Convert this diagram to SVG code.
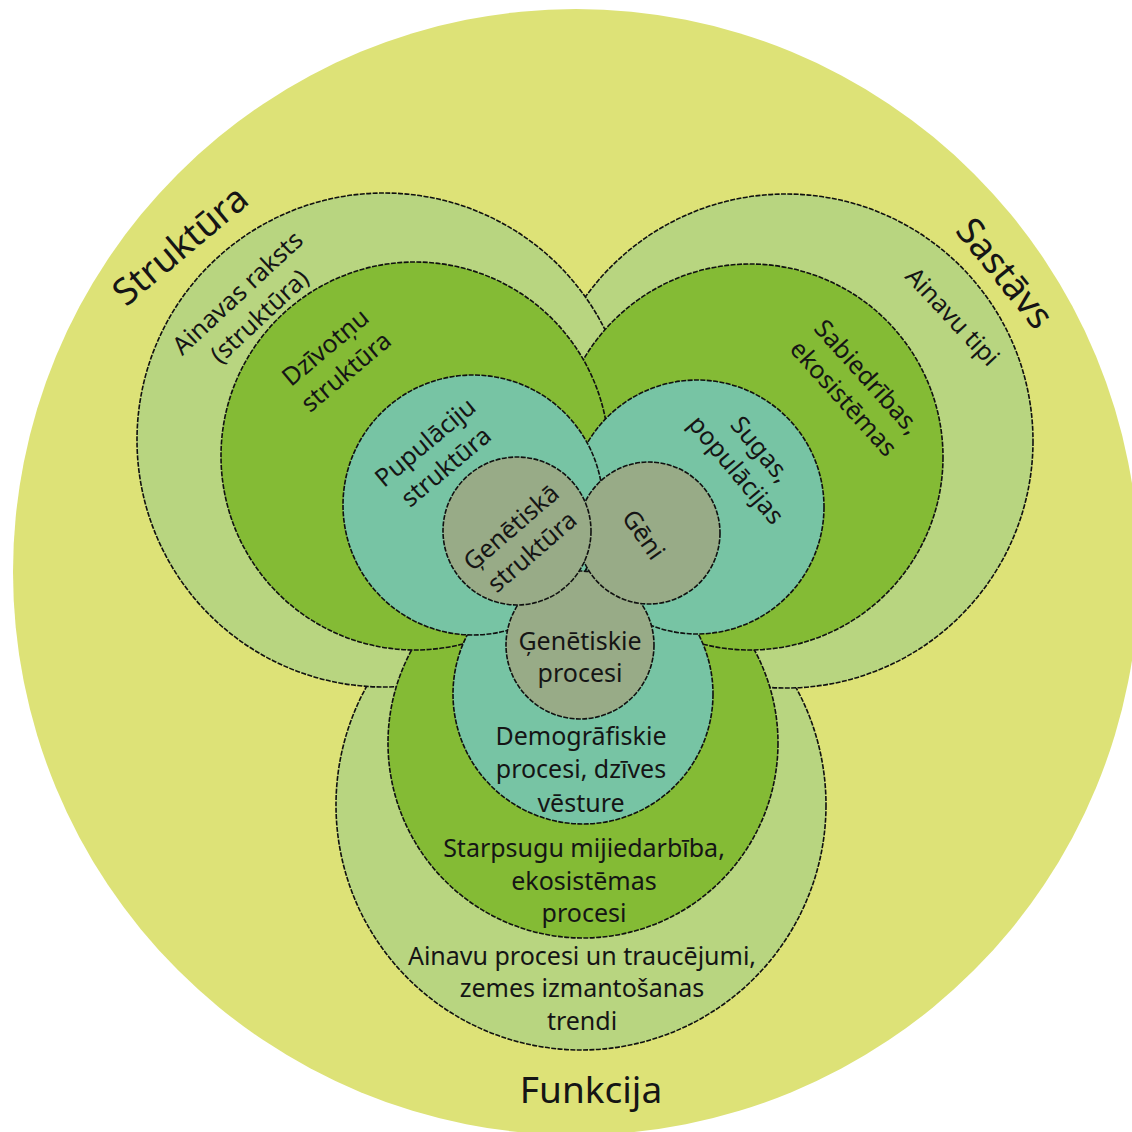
<svg xmlns="http://www.w3.org/2000/svg" width="1132" height="1132" viewBox="0 0 1132 1132">
<style>
.c{stroke:#101010;stroke-width:1.6;stroke-dasharray:5 1.4}
.lt{fill:#b8d580}
.gr{fill:#84bb35}
.te{fill:#77c4a4}
.gy{fill:#98ab87}
text{font-family:"Noto Sans","Open Sans",sans-serif;fill:#151515;text-anchor:middle}
.lab{font-size:25px}
.big{font-size:37px}
</style>
<rect width="1132" height="1132" fill="#ffffff"/>
<g id="outer">
<circle cx="576" cy="572" r="563" fill="#dde277"/>
<text class="big" transform="translate(180,245) rotate(-40)" y="13">Struktūra</text>
<text class="big" transform="translate(1005,273) rotate(51)" y="13">Sastāvs</text>
<text class="big" x="591" y="1103">Funkcija</text>
</g>
<g id="landscape-function">
<circle class="c lt" cx="581" cy="805" r="245"/>
<text class="lab" x="582" y="965">Ainavu procesi un traucējumi,</text>
<text class="lab" x="582" y="997">zemes izmantošanas</text>
<text class="lab" x="582" y="1030">trendi</text>
</g>
<g id="landscape-composition">
<circle class="c lt" cx="786" cy="441" r="247"/>
<text class="lab" transform="translate(952,317) rotate(47)" y="8">Ainavu tipi</text>
</g>
<g id="landscape-structure">
<circle class="c lt" cx="384" cy="440" r="247"/>
<text class="lab" transform="translate(249,305) rotate(-43)"><tspan x="0" y="-8">Ainavas raksts</tspan><tspan x="0" y="24">(struktūra)</tspan></text>
</g>
<g id="ecosystem-function">
<circle class="c gr" cx="583" cy="743" r="195"/>
<text class="lab" x="584" y="857">Starpsugu mijiedarbība,</text>
<text class="lab" x="584" y="890">ekosistēmas</text>
<text class="lab" x="584" y="922">procesi</text>
</g>
<g id="ecosystem-composition">
<circle class="c gr" cx="750" cy="457" r="193"/>
<text class="lab" transform="translate(855,388) rotate(48)"><tspan x="0" y="-8">Sabiedrības,</tspan><tspan x="0" y="24">ekosistēmas</tspan></text>
</g>
<g id="ecosystem-structure">
<circle class="c gr" cx="415" cy="456" r="194"/>
<text class="lab" transform="translate(336,360) rotate(-40)"><tspan x="0" y="-8">Dzīvotņu</tspan><tspan x="0" y="24">struktūra</tspan></text>
</g>
<g id="population-function">
<circle class="c te" cx="583" cy="694" r="130"/>
<text class="lab" x="581" y="745">Demogrāfiskie</text>
<text class="lab" x="581" y="778">procesi, dzīves</text>
<text class="lab" x="581" y="812">vēsture</text>
</g>
<g id="population-composition">
<circle class="c te" cx="697" cy="507" r="127"/>
<text class="lab" transform="translate(748,460) rotate(50)"><tspan x="0" y="-8">Sugas,</tspan><tspan x="0" y="24">populācijas</tspan></text>
</g>
<g id="population-structure">
<circle class="c te" cx="473" cy="505" r="130"/>
<text class="lab" transform="translate(436,455) rotate(-40)"><tspan x="0" y="-8">Pupulāciju</tspan><tspan x="0" y="24">struktūra</tspan></text>
</g>
<g id="genetic-function">
<circle class="c gy" cx="580" cy="645" r="74"/>
<text class="lab" x="580" y="650">Ģenētiskie</text>
<text class="lab" x="580" y="682">procesi</text>
</g>
<g id="genetic-composition">
<circle class="c gy" cx="649" cy="533" r="71"/>
<text class="lab" transform="translate(643,535) rotate(55)" y="8">Gēni</text>
</g>
<g id="genetic-structure">
<circle class="c gy" cx="517" cy="531" r="74"/>
<text class="lab" transform="translate(522,540) rotate(-41)"><tspan x="0" y="-8">Ģenētiskā</tspan><tspan x="0" y="24">struktūra</tspan></text>
</g>
<g id="connectors"/>
</svg>
